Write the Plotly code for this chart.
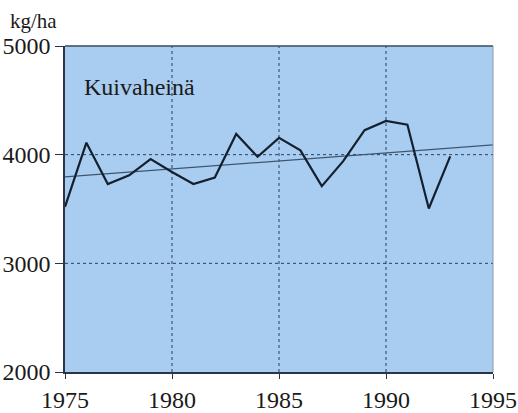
import plotly.graph_objects as go

years = list(range(1975, 1994))
yields = [3520, 4110, 3730, 3810, 3960, 3840, 3730, 3790, 4190, 3980,
          4155, 4040, 3710, 3940, 4225, 4310, 4275, 3505, 3985]
trend_x = [1975, 1995]
trend_y = [3795, 4090]
x_ticks = [1975, 1980, 1985, 1990, 1995]
y_ticks = [2000, 3000, 4000, 5000]
title_text = "Kuivaheinä"
unit_text = "kg/ha"

font_family = "Liberation Serif"
grid_col = "#2b3f5c"

fig = go.Figure()
fig.add_trace(go.Scatter(x=trend_x, y=trend_y, mode="lines",
                         line=dict(color="#3d5670", width=1.2), hoverinfo="skip"))
fig.add_trace(go.Scatter(x=years, y=yields, mode="lines",
                         line=dict(color="#15202e", width=2.2)))

for gx in x_ticks[1:-1]:
    fig.add_shape(type="line", x0=gx, x1=gx, y0=2000, y1=5000, xref="x", yref="y",
                  line=dict(color=grid_col, width=1, dash="dot"), layer="below")
for gy in y_ticks[1:-1]:
    fig.add_shape(type="line", x0=1975, x1=1995, y0=gy, y1=gy, xref="x", yref="y",
                  line=dict(color=grid_col, width=1, dash="3px,3px"), layer="below")

fig.add_annotation(x=1975.8, y=4620, text=title_text, showarrow=False, xanchor="left",
                   font=dict(family=font_family, size=24, color="#1a1a1a"))
fig.add_annotation(x=0, xref="paper", xanchor="center", xshift=-32,
                   y=5000, yref="y", yshift=25, text=unit_text, showarrow=False,
                   font=dict(family=font_family, size=21, color="#1a1a1a"))

fig.update_layout(
    width=518, height=413,
    margin=dict(l=65, r=25, t=46, b=41),
    paper_bgcolor="white",
    plot_bgcolor="#a9cdf0",
    showlegend=False,
    font=dict(family=font_family, size=24, color="#1a1a1a"),
)
fig.update_xaxes(range=[1975, 1995], tickvals=x_ticks, showgrid=False, zeroline=False,
                 automargin=False,
                 showline=True, linecolor="#2b3545", linewidth=1.5, mirror=False,
                 ticks="outside", ticklen=5, tickcolor="#2b3545",
                 tickfont=dict(family=font_family, size=24))
fig.update_yaxes(range=[2000, 5000], tickvals=y_ticks, showgrid=False, zeroline=False,
                 automargin=False,
                 showline=True, linecolor="#2b3545", linewidth=1.5,
                 ticks="outside", ticklen=8, tickcolor="#2b3545",
                 tickfont=dict(family=font_family, size=24))
fig.add_shape(type="line", x0=0, x1=1, y0=1, y1=1, xref="paper", yref="paper",
              line=dict(color="#3a4a5c", width=1.5))
fig.add_shape(type="line", x0=1, x1=1, y0=0, y1=1, xref="paper", yref="paper",
              line=dict(color="#8a98a8", width=1))

fig.write_html("out.html", config={"displayModeBar": False},
               post_script="document.body.style.margin='0';document.body.style.padding='0';")
